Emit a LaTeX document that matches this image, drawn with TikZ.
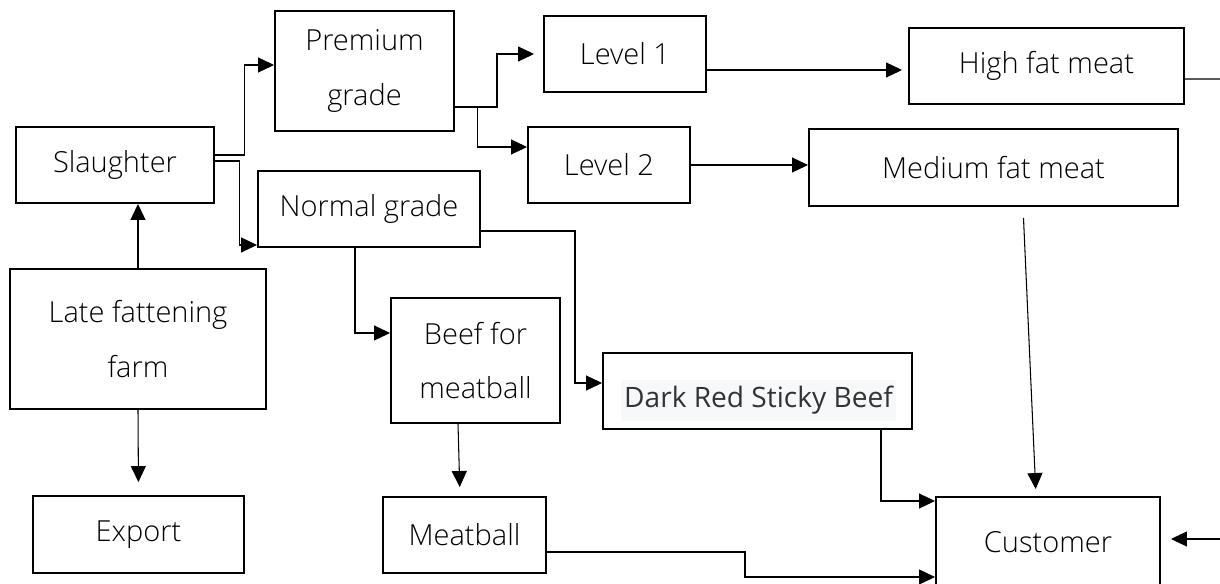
\documentclass[tikz,border=0pt]{standalone}
\usepackage{fontspec}
\setmainfont{Open Sans Light}
\newfontfamily\uifont{Open Sans}
\usetikzlibrary{arrows.meta}
\definecolor{hlgray}{HTML}{F7F8FA}
\definecolor{txtgray}{HTML}{333333}

\tikzset{
  box/.style={draw, line width=1.1pt, align=center, inner sep=0pt},
  boxsize/.style 2 args={minimum width=#1*0.02cm, minimum height=#2*0.02cm},
  arr/.style={-{Triangle[length=0.32cm,width=0.3cm]}, line width=0.6pt},
  link/.style={line width=0.6pt},
}

\begin{document}
\begin{tikzpicture}[x=0.02cm, y=-0.02cm, font=\fontsize{16.5}{31}\selectfont]
    \useasboundingbox (0,0) rectangle (1220,584);

    % Boxes
    \node[box, boxsize={198}{76}]  (slaughter) at (115,165)    {Slaughter};
    \node[box, boxsize={179}{120}] (premium)   at (364.5,71)   {Premium\\grade};
    \node[box, boxsize={222}{76}]  (normal)    at (369,209)    {Normal grade};
    \node[box, boxsize={162}{76}]  (level1)    at (625,54)     {Level 1};
    \node[box, boxsize={162}{76}]  (level2)    at (609,165)    {Level 2};
    \node[box, boxsize={275}{76}]  (highfat)   at (1046.5,66)  {High fat meat};
    \node[box, boxsize={369}{77}]  (medium)    at (993.5,167.5){Medium fat meat};
    \node[box, boxsize={256}{140}] (farm)      at (138,339)    {Late fattening\\farm};
    \node[box, boxsize={169}{125}] (beef)      at (475.5,360.5){Beef for\\meatball};
    \node[box, boxsize={309}{76}]  (darkred)   at (757.5,391)  {};
    \node[fill=hlgray, text=txtgray, font=\uifont\fontsize{16}{20}\selectfont,
          boxsize={275}{41}, inner sep=0pt] (darkredtxt) at (758.5,400.5) {Dark Red Sticky Beef};
    \node[box, boxsize={211}{77}]  (export)    at (138.5,534.5){Export};
    \node[box, boxsize={163}{76}]  (meatball)  at (464.5,535)  {Meatball};
    \node[box, boxsize={224}{90}]  (customer)  at (1048,542)   {Customer};

    % Free ends at the right edge
    \coordinate (hfout)  at (1226,79);
    \coordinate (custin) at (1226,539);

    % Farm
    \draw[arr] (farm.north) -- (farm.north |- slaughter.south);
    \draw[arr, shorten >=0.26cm] (farm.south) -- (export.north);

    % Slaughter branches
    \draw[arr] ([yshift=0.2cm]slaughter.east) -- ++(30,0) |- ([yshift=0.12cm]premium.west);
    \draw[arr] ([yshift=0.08cm]slaughter.east) -- ++(25,0) |- ([yshift=-0.72cm]normal.west);

    % Premium grade levels
    \draw[arr, shorten >=0.18cm] ([yshift=-0.72cm]premium.east) coordinate (pout) -- ++(42,0) |- (level1.west);
    \draw[arr] ([xshift=0.46cm]pout) |- ([yshift=0.36cm]level2.west);
    \draw[arr, shorten >=0.12cm] ([yshift=-0.32cm]level1.east) -- ([yshift=-0.32cm]level1.east -| highfat.west);
    \draw[arr] (level2.east) -- (level2.east -| medium.west);
    \draw[link] ([yshift=-0.26cm]highfat.east) -- (hfout);

    % Normal grade
    \draw[arr] ([xshift=-0.28cm]normal.south) |- ([yshift=0.55cm]beef.west);
    \draw[arr] ([yshift=-0.44cm]normal.east) -- ++(94,0) |- ([yshift=0.16cm]darkred.west);
    \draw[arr, shorten >=0.18cm] ([xshift=-0.35cm]beef.south) -- ([xshift=-0.09cm]meatball.north);

    % Into customer
    \draw[arr] ([xshift=2.47cm]darkred.south) |- ([yshift=0.82cm]customer.west);
    \draw[arr] ([yshift=-0.34cm]meatball.east) -- ++(198,0) |- ([yshift=-0.7cm]customer.west);
    \draw[arr, shorten <=0.22cm, shorten >=0.14cm] ([xshift=0.59cm]medium.south) -- ([xshift=-0.24cm]customer.north);
    \draw[arr, shorten >=0.2cm] (custin) -- (custin -| customer.east);
\end{tikzpicture}
\end{document}
